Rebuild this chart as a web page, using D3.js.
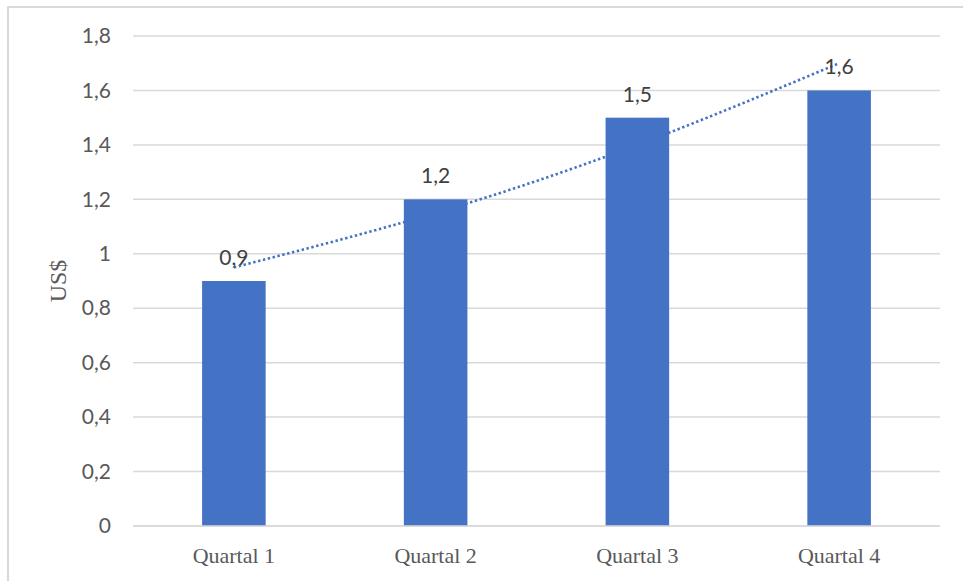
<!DOCTYPE html>
<html>
<head>
<meta charset="utf-8">
<script src="https://cdn.jsdelivr.net/npm/d3@7"></script>
<style>
  body { margin: 0; background: #fff; }
  svg { display: block; }
</style>
</head>
<body>
<div id="chart"></div>
<script>
// dados
var categories = ["Quartal 1", "Quartal 2", "Quartal 3", "Quartal 4"];
var values = [0.9, 1.2, 1.5, 1.6];
var valueLabels = ["0,9", "1,2", "1,5", "1,6"];
// linha de tendência (em cada trimestre)
var trendValues = [0.95, 1.15, 1.40, 1.70];
var yTicks = [0, 0.2, 0.4, 0.6, 0.8, 1, 1.2, 1.4, 1.6, 1.8];
var yTickLabels = ["0", "0,2", "0,4", "0,6", "0,8", "1", "1,2", "1,4", "1,6", "1,8"];

var W = 963, H = 581;
var margin = {top: 36, right: 23, bottom: 55, left: 133},
    width = W - margin.left - margin.right,
    height = H - margin.top - margin.bottom;

var root = d3.select("#chart")
    .append("svg")
    .attr("width", W)
    .attr("height", H);

// moldura
root.append("rect")
    .attr("x", 8).attr("y", 7)
    .attr("width", W + 20).attr("height", H + 20)
    .attr("fill", "none")
    .attr("stroke", "#d9d9d9")
    .attr("stroke-width", 2);

var svg = root.append("g")
    .attr("transform", "translate(" + margin.left + "," + margin.top + ")");

var x = d3.scaleBand()
    .domain(categories)
    .range([0, width])
    .paddingInner(0.685)
    .paddingOuter(0.3425);

var y = d3.scaleLinear()
    .domain([0, 1.8])
    .range([height, 0]);

// grade
svg.append("g")
    .selectAll("line")
    .data(yTicks)
    .enter()
    .append("line")
    .attr("x1", 0)
    .attr("x2", width)
    .attr("y1", function(d) { return y(d); })
    .attr("y2", function(d) { return y(d); })
    .attr("stroke", "#d9d9d9")
    .attr("stroke-width", 1.5);

// eixo y
var yAxis = svg.append("g")
    .call(d3.axisLeft(y)
        .tickValues(yTicks)
        .tickSize(0)
        .tickPadding(22)
        .tickFormat(function(d, i) { return yTickLabels[i]; }));
yAxis.select(".domain").remove();
yAxis.selectAll("text")
    .attr("fill", "#595959")
    .style("font-family", "Lato, 'Open Sans', sans-serif")
    .style("font-size", "21px");

// eixo x
var xAxis = svg.append("g")
    .attr("transform", "translate(0," + height + ")")
    .call(d3.axisBottom(x).tickSize(0).tickPadding(21));
xAxis.select(".domain").remove();
xAxis.selectAll("text")
    .attr("fill", "#595959")
    .style("font-family", "'Liberation Serif', serif")
    .style("font-size", "22px");

// linha de tendência (atrás das barras)
var trendLine = d3.line()
    .x(function(d, i) { return x(categories[i]) + x.bandwidth() / 2; })
    .y(function(d) { return y(d); })
    .curve(d3.curveNatural);

svg.append("path")
    .datum(trendValues)
    .attr("d", trendLine)
    .attr("fill", "none")
    .attr("stroke", "#4472c4")
    .attr("stroke-width", 2.6)
    .attr("stroke-dasharray", "2.4,2.6");

// barras
svg.selectAll("rect.bar")
    .data(values)
    .enter()
    .append("rect")
    .attr("class", "bar")
    .attr("x", function(d, i) { return x(categories[i]); })
    .attr("y", function(d) { return y(d); })
    .attr("width", x.bandwidth())
    .attr("height", function(d) { return height - y(d); })
    .attr("fill", "#4472c4");

// linha base
svg.append("line")
    .attr("x1", 0).attr("x2", width)
    .attr("y1", height).attr("y2", height)
    .attr("stroke", "#d9d9d9")
    .attr("stroke-width", 1.5);

// rótulos de dados
svg.selectAll("text.label")
    .data(values)
    .enter()
    .append("text")
    .attr("class", "label")
    .attr("x", function(d, i) { return x(categories[i]) + x.bandwidth() / 2; })
    .attr("y", function(d) { return y(d) - 16; })
    .attr("text-anchor", "middle")
    .attr("fill", "#404040")
    .style("font-family", "Lato, 'Open Sans', sans-serif")
    .style("font-size", "21px")
    .text(function(d, i) { return valueLabels[i]; });

// título do eixo y
root.append("text")
    .attr("transform", "translate(66," + (margin.top + y(0.9)) + ") rotate(-90)")
    .attr("text-anchor", "middle")
    .attr("fill", "#595959")
    .style("font-family", "'Liberation Serif', serif")
    .style("font-size", "24px")
    .text("US$");
</script>
</body>
</html>
